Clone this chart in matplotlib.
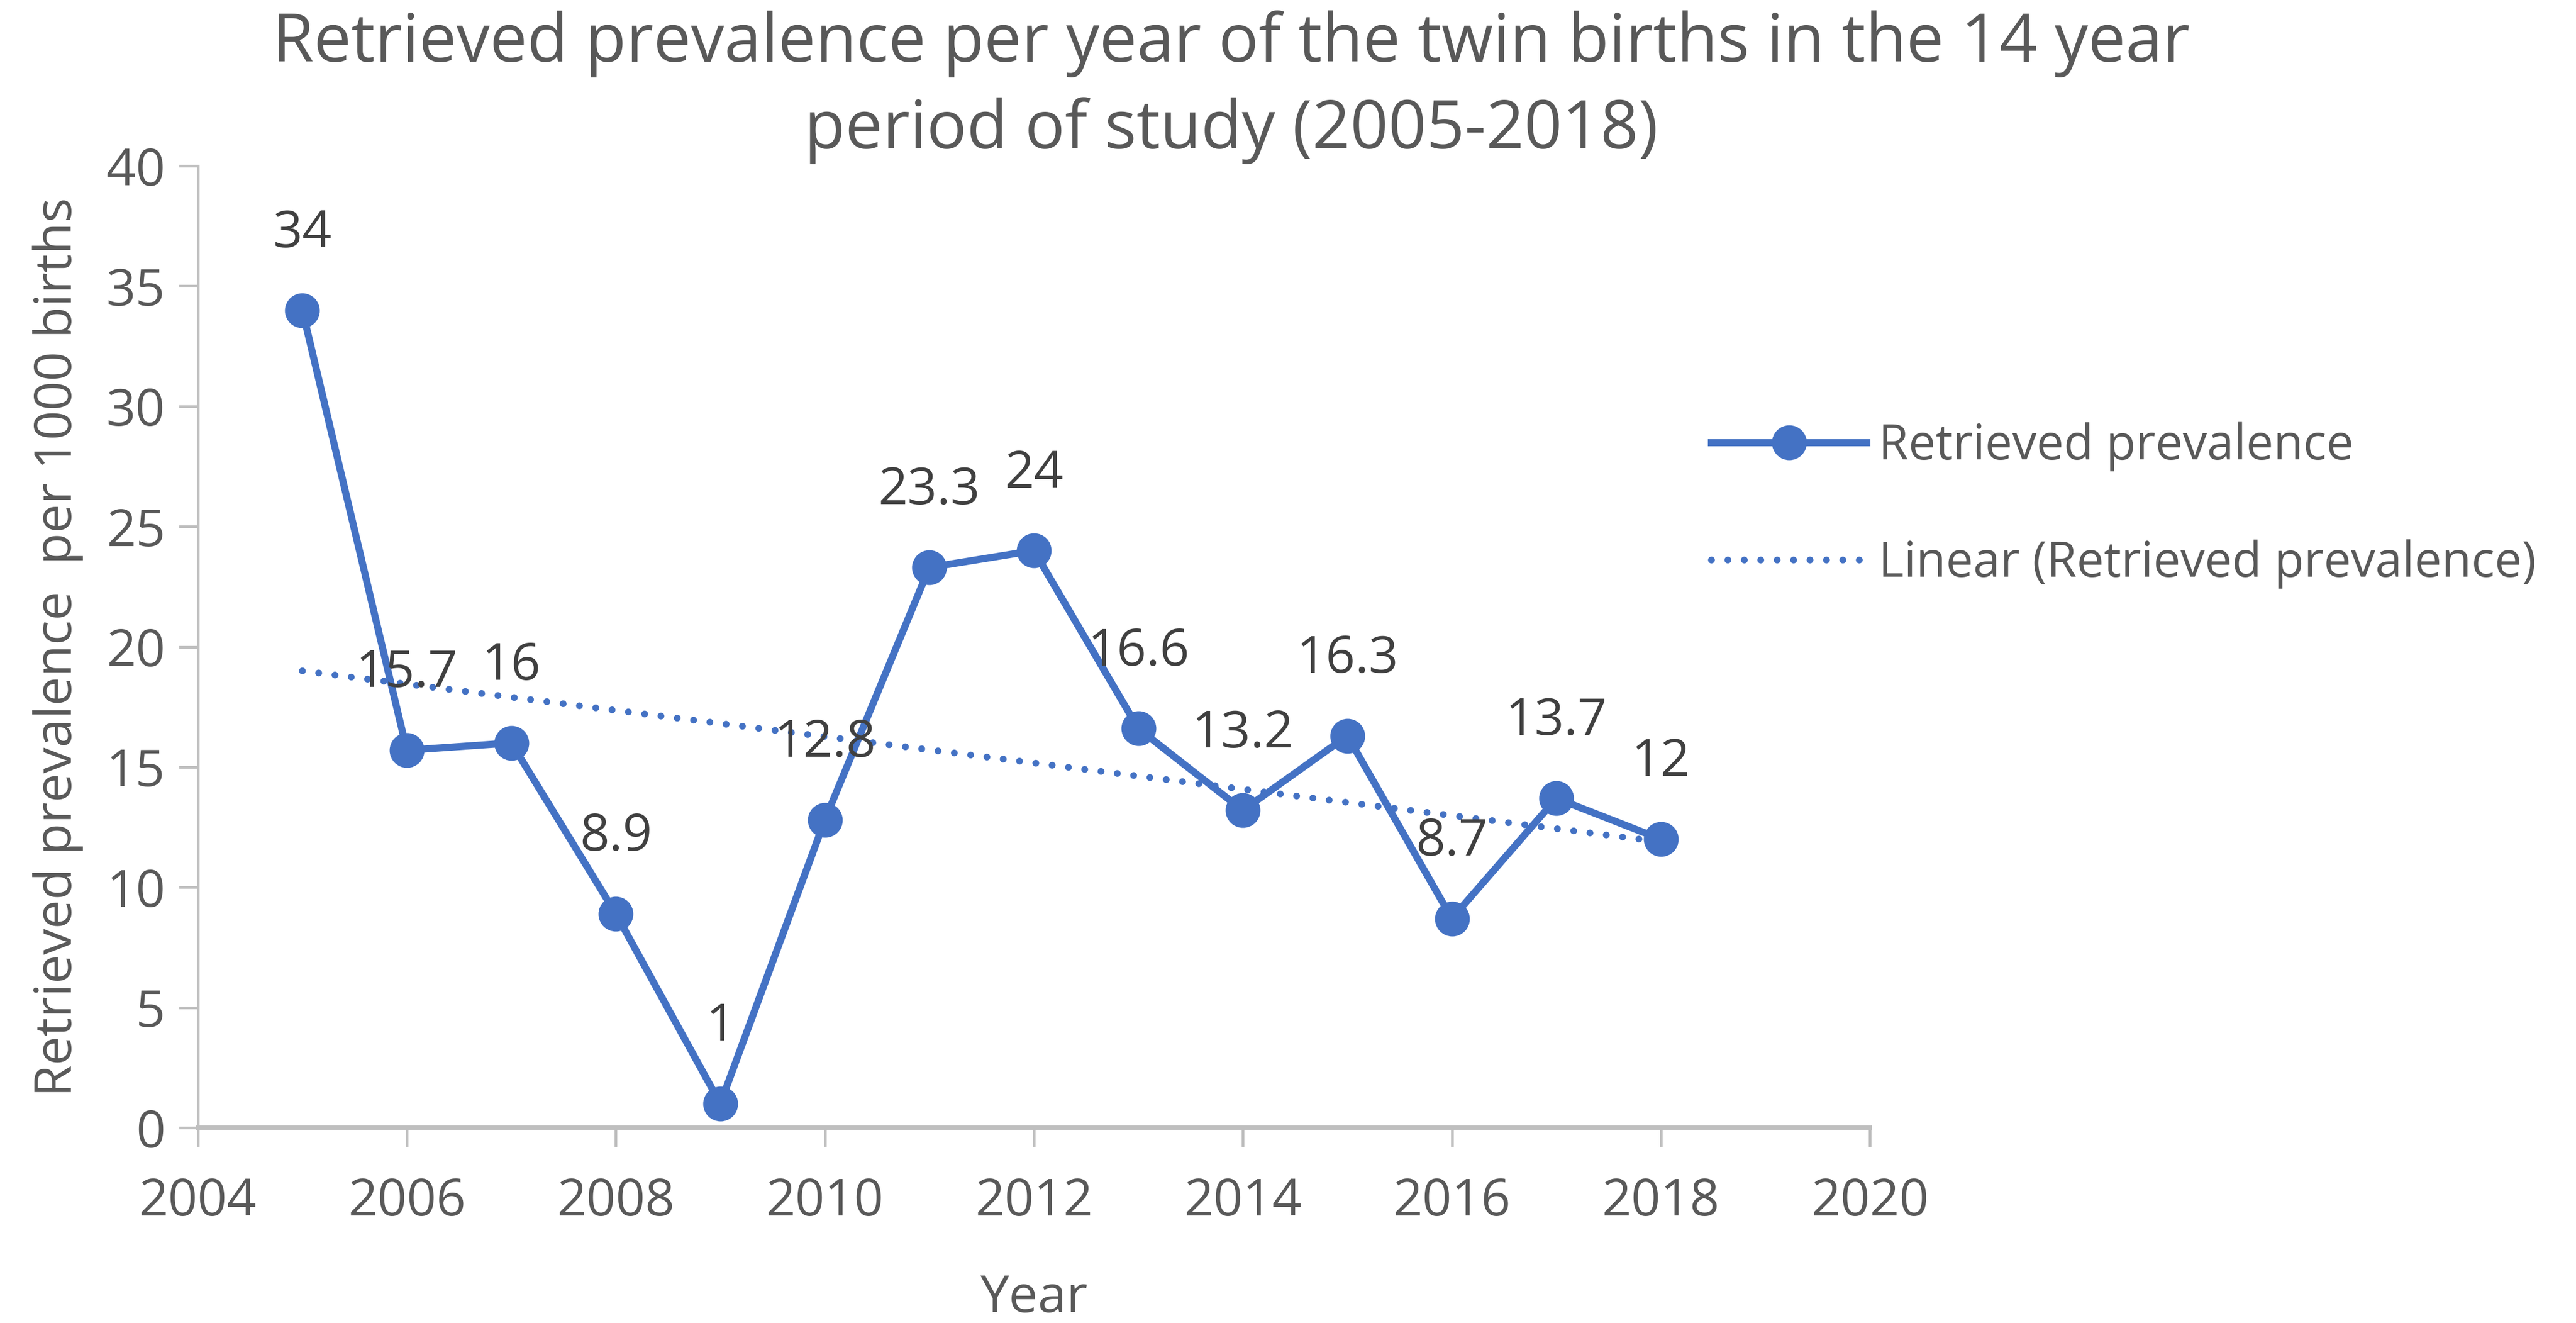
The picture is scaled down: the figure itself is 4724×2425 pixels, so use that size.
import numpy as np
import matplotlib
matplotlib.use("Agg")
import matplotlib.pyplot as plt

# values
years = [2005, 2006, 2007, 2008, 2009, 2010, 2011, 2012, 2013, 2014, 2015, 2016, 2017, 2018]
prevalence = [34, 15.7, 16, 8.9, 1, 12.8, 23.3, 24, 16.6, 13.2, 16.3, 8.7, 13.7, 12]
point_labels = ["34", "15.7", "16", "8.9", "1", "12.8", "23.3", "24", "16.6", "13.2", "16.3", "8.7", "13.7", "12"]
x_ticks = [2004, 2006, 2008, 2010, 2012, 2014, 2016, 2018, 2020]
y_ticks = [0, 5, 10, 15, 20, 25, 30, 35, 40]

blue = "#4472C4"
grey_text = "#595959"
dark_text = "#404040"
axis_grey = "#BFBFBF"

plt.rcParams["font.family"] = ["Open Sans", "DejaVu Sans"]

fig = plt.figure(figsize=(47.24, 24.25), dpi=100)
ax = fig.add_axes([0.0768, 0.1476, 0.6491, 0.7270])

ax.plot(years, prevalence, color=blue, lw=9.4, marker="o", ms=45,
        label="Retrieved prevalence", zorder=3)

# linear trendline like excel
k, b = np.polyfit(years, prevalence, 1)
trend_x = np.array([years[0], years[-1]])
ax.plot(trend_x, k * trend_x + b, color=blue, lw=9, linestyle=(0, (0.01, 2.4)),
        dash_capstyle="round", label="Linear (Retrieved prevalence)", zorder=2)

for x, y, t in zip(years, prevalence, point_labels):
    ax.annotate(t, (x, y), xytext=(0, 101), textcoords="offset points",
                ha="center", va="center", fontsize=68, color=dark_text, zorder=4)

ax.set_xlim(2004, 2020)
ax.set_ylim(0, 40)
ax.set_xticks(x_ticks)
ax.set_yticks(y_ticks)

for s in ["top", "right"]:
    ax.spines[s].set_visible(False)
ax.spines["left"].set_color(axis_grey)
ax.spines["left"].set_linewidth(3.6)
ax.spines["bottom"].set_color(axis_grey)
ax.spines["bottom"].set_linewidth(5.8)
ax.tick_params(axis="both", colors=axis_grey, labelcolor=grey_text, labelsize=68,
               length=25, width=3.6)
ax.tick_params(axis="x", pad=40)
ax.tick_params(axis="y", pad=18)

ax.set_xlabel("Year", fontsize=68, color=grey_text, labelpad=60)
ax.set_ylabel("Retrieved prevalence  per 1000 births", fontsize=68, color=grey_text, labelpad=30)

fig.text(0.478, 0.934, "Retrieved prevalence per year of the twin births in the 14 year\nperiod of study (2005-2018)",
         ha="center", va="center", fontsize=88, color=grey_text, linespacing=1.38)

fig.legend(loc="center left", bbox_to_anchor=(0.6474, 0.618), frameon=False, fontsize=64,
           labelcolor=grey_text, handlelength=3.2, handletextpad=0.25, labelspacing=1.4,
           numpoints=1)

fig.savefig("out.png", dpi=100, facecolor="white")
